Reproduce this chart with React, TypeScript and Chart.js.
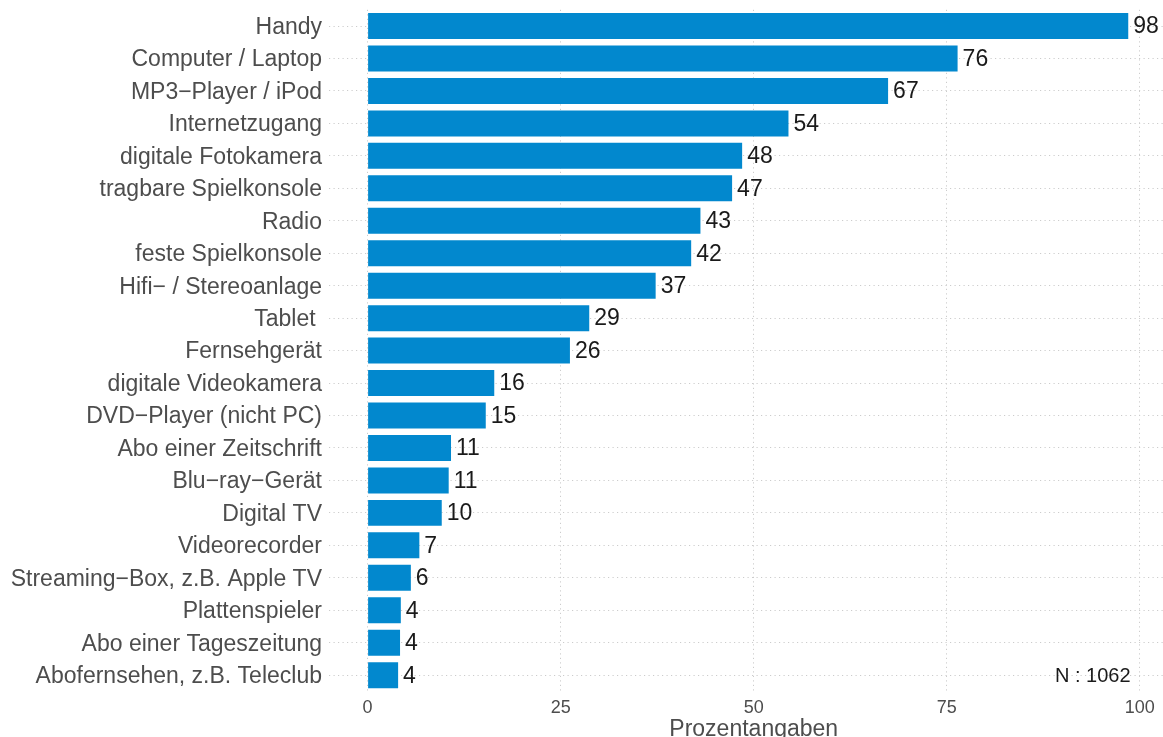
import React, { useEffect, useRef } from "react";
import { Chart, registerables } from "chart.js";

Chart.register(...registerables);

const categories: string[] = [
  "Handy",
  "Computer / Laptop",
  "MP3\u2212Player / iPod",
  "Internetzugang",
  "digitale Fotokamera",
  "tragbare Spielkonsole",
  "Radio",
  "feste Spielkonsole",
  "Hifi\u2212 / Stereoanlage",
  "Tablet ",
  "Fernsehger\u00e4t",
  "digitale Videokamera",
  "DVD\u2212Player (nicht PC)",
  "Abo einer Zeitschrift",
  "Blu\u2212ray\u2212Ger\u00e4t",
  "Digital TV",
  "Videorecorder",
  "Streaming\u2212Box, z.B. Apple TV",
  "Plattenspieler",
  "Abo einer Tageszeitung",
  "Abofernsehen, z.B. Teleclub",
];

const values: number[] = [
  98.5, 76.4, 67.4, 54.5, 48.5, 47.2, 43.1, 41.9, 37.3, 28.7, 26.2, 16.4, 15.3,
  10.8, 10.5, 9.6, 6.7, 5.6, 4.3, 4.2, 3.95,
];

const valueLabels: string[] = [
  "98", "76", "67", "54", "48", "47", "43", "42", "37", "29", "26", "16", "15",
  "11", "11", "10", "7", "6", "4", "4", "4",
];

const xTicks: number[] = [0, 25, 50, 75, 100];
const xTitle = "Prozentangaben";
const noteText = "N : 1062";

const FONT = "'Liberation Sans', Arial, Helvetica, sans-serif";
const BAR_COLOR = "#0288CE";
const GRID_COLOR = "#cccccc";
const DASH = [1.2, 3.3];

export default function App() {
  const ref = useRef<HTMLCanvasElement | null>(null);

  useEffect(() => {
    const canvas = ref.current;
    if (!canvas) return;

    const labelPlugin = {
      id: "extras",
      afterDatasetsDraw(chart: any) {
        const ctx = chart.ctx;
        const meta = chart.getDatasetMeta(0);
        ctx.save();
        ctx.font = `23px ${FONT}`;
        ctx.fillStyle = "#1a1a1a";
        ctx.textAlign = "left";
        ctx.textBaseline = "middle";
        meta.data.forEach((bar: any, i: number) => {
          ctx.fillText(valueLabels[i], bar.x + 5, bar.y + 1);
        });
        // note
        ctx.font = `20px ${FONT}`;
        ctx.textAlign = "right";
        ctx.textBaseline = "alphabetic";
        const lastBar = meta.data[meta.data.length - 1];
        ctx.fillText(noteText, chart.scales.x.getPixelForValue(98.8), lastBar.y + 7);
        // axis title
        ctx.font = `23px ${FONT}`;
        ctx.fillStyle = "#4D4D4D";
        ctx.textAlign = "center";
        ctx.fillText(xTitle, chart.scales.x.getPixelForValue(50), 736);
        ctx.restore();
      },
    };

    const chart = new Chart(canvas, {
      type: "bar",
      data: {
        labels: categories,
        datasets: [
          {
            data: values,
            backgroundColor: BAR_COLOR,
            borderWidth: 0,
            categoryPercentage: 0.8,
            barPercentage: 1,
          },
        ],
      },
      options: {
        indexAxis: "y",
        responsive: false,
        animation: false,
        devicePixelRatio: 1,
        layout: { padding: { top: 9.8, right: 0, left: 0, bottom: 0 } },
        plugins: {
          legend: { display: false },
          tooltip: { enabled: false },
          title: { display: false },
        },
        scales: {
          x: {
            type: "linear",
            min: -5,
            max: 103,
            afterBuildTicks(scale: any) {
              scale.ticks = xTicks.map((v) => ({ value: v }));
            },
            afterFit(scale: any) {
              scale.height = 45.6;
              scale.paddingLeft = 0;
              scale.paddingRight = 0;
            },
            border: { display: false, dash: DASH },
            grid: {
              color: GRID_COLOR,
              lineWidth: 1,
              drawTicks: false,
            },
            ticks: {
              padding: 6,
              color: "#4D4D4D",
              font: { size: 18, family: FONT },
              callback: (v: any) => String(v),
            },
          },
          y: {
            type: "category",
            offset: true,
            afterFit(scale: any) {
              scale.width = 329;
              scale.paddingTop = 0;
              scale.paddingBottom = 0;
            },
            border: { display: false, dash: DASH },
            grid: {
              offset: false,
              color: GRID_COLOR,
              lineWidth: 1,
              drawTicks: false,
            },
            ticks: {
              padding: 7,
              labelOffset: 1.5,
              color: "#4D4D4D",
              font: { size: 23, family: FONT },
              autoSkip: false,
            },
          },
        },
      },
      plugins: [labelPlugin],
    } as any);

    return () => chart.destroy();
  }, []);

  return (
    <div style={{ position: "fixed", left: 0, top: 0, width: 1163, height: 737, background: "#fff" }}>
      <canvas ref={ref} width={1163} height={737} style={{ display: "block" }} />
    </div>
  );
}
